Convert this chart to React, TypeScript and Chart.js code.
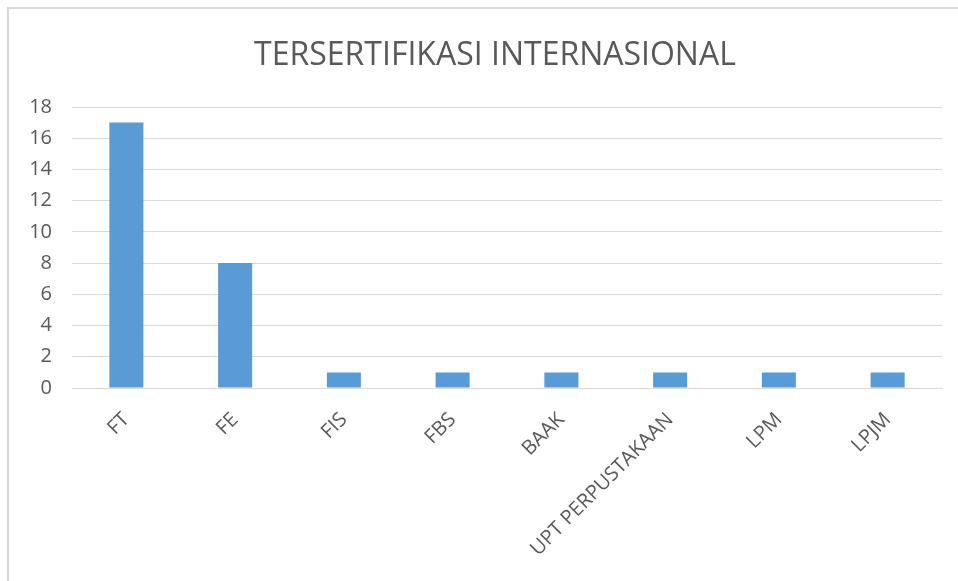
import React, { useEffect, useRef } from "react";
import { Chart, registerables } from "chart.js";

Chart.register(...registerables);

const categories = ["FT", "FE", "FIS", "FBS", "BAAK", "UPT PERPUSTAKAAN", "LPM", "LPJM"];
const values = [17, 8, 1, 1, 1, 1, 1, 1];
const chartTitle = "TERSERTIFIKASI INTERNASIONAL";
const yMin = 0;
const yMax = 18;
const yStep = 2;

const FONT = "'Open Sans', sans-serif";
const TEXT = "#595959";
const GRID = "#d9d9d9";
const BAR = "#5b9bd5";

const widenYLabelArea = {
  id: "widenYLabelArea",
  afterLayout(chart: any) {
    const y = chart.scales.y;
    if (y) {
      y.left = 0;
      y.width = y.right;
    }
  },
};

export default function App() {
  const ref = useRef<HTMLCanvasElement | null>(null);

  useEffect(() => {
    if (!ref.current) return;
    const chart = new Chart(ref.current, {
      type: "bar",
      data: {
        labels: categories,
        datasets: [
          {
            data: values,
            backgroundColor: BAR,
            borderWidth: 0,
            categoryPercentage: 1,
            barPercentage: 0.313,
          },
        ],
      },
      options: {
        animation: false,
        responsive: false,
        maintainAspectRatio: false,
        layout: { padding: { left: 48, right: 16, top: 0, bottom: 0 } },
        plugins: {
          legend: { display: false },
          tooltip: { enabled: false },
          title: {
            display: true,
            text: chartTitle,
            color: TEXT,
            font: { family: FONT, size: 32, weight: "normal" },
            padding: { top: 37, bottom: 31.6 },
          },
        },
        scales: {
          x: {
            grid: { display: false, drawTicks: false },
            border: { display: true, color: GRID, width: 1 },
            ticks: {
              autoSkip: false,
              minRotation: 45,
              maxRotation: 45,
              padding: 20,
              color: TEXT,
              font: { family: FONT, size: 20 },
            },
            afterFit: (scale: any) => {
              scale.height = 193;
            },
          },
          y: {
            min: yMin,
            max: yMax,
            grid: { color: GRID, drawTicks: false },
            border: { display: false },
            ticks: {
              stepSize: yStep,
              padding: 20,
              color: TEXT,
              font: { family: FONT, size: 20 },
            },
            afterFit: (scale: any) => {
              scale.width = 24;
            },
          },
        },
      },
      plugins: [widenYLabelArea],
    });
    return () => chart.destroy();
  }, []);

  return (
    <div style={{ position: "fixed", left: 0, top: 0, width: 958, height: 581, background: "#fff" }}>
      <div
        style={{
          position: "absolute",
          left: 7,
          top: 7,
          right: 0,
          bottom: 0,
          borderTop: "2px solid #d9d9d9",
          borderLeft: "2px solid #d9d9d9",
        }}
      />
      <canvas ref={ref} width={958} height={581} style={{ position: "absolute", left: 0, top: 0 }} />
    </div>
  );
}
